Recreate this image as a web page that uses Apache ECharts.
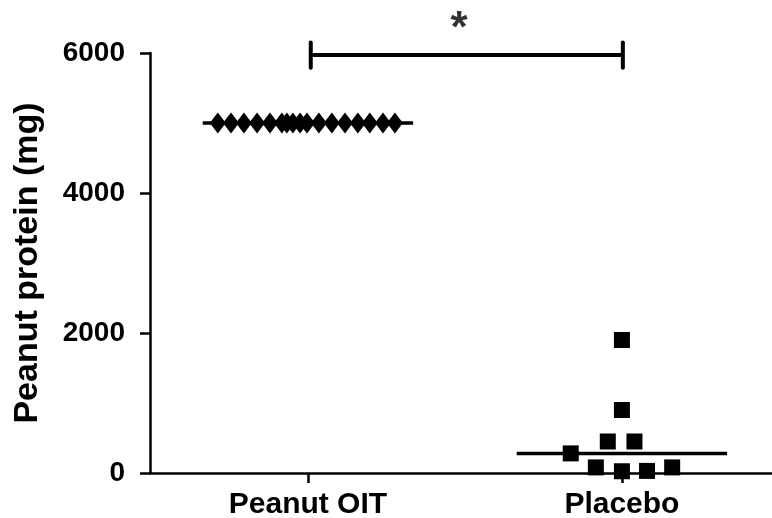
<!DOCTYPE html>
<html>
<head>
<meta charset="utf-8">
<script src="https://cdn.jsdelivr.net/npm/echarts@6/dist/echarts.min.js"></script>
<style>html,body{margin:0;padding:0;background:#fff}#c{width:772px;height:518px}</style>
</head>
<body>
<div id="c"></div>
<script>
// Categories and tick labels
var categories = ['Peanut OIT', 'Placebo'];
var yTicks = [0, 2000, 4000, 6000];
// Peanut OIT: all at 5000 mg, horizontal jitter (category units)
var oitJitter = [-0.287, -0.245, -0.204, -0.162, -0.121, -0.083, -0.067, -0.048, -0.025, -0.003, 0.035, 0.076, 0.118, 0.159, 0.197, 0.239, 0.277];
var oitValues = [5000, 5000, 5000, 5000, 5000, 5000, 5000, 5000, 5000, 5000, 5000, 5000, 5000, 5000, 5000, 5000, 5000];
// Placebo values with jitter
var placeboJitter = [0, 0, -0.045, 0.04, -0.163, -0.083, 0, 0.08, 0.16];
var placeboValues = [1900, 900, 450, 450, 280, 80, 25, 30, 80];
// Medians
var medians = [5000, 280];
var medianHalfWidth = 0.335;
// Significance
var sigFrom = 0.009, sigTo = 1.003, sigY = 5970, sigLabel = '*';

var oitData = oitValues.map(function (v, i) { return [0 + oitJitter[i], v]; });
var plaData = placeboValues.map(function (v, i) { return [1 + placeboJitter[i], v]; });

var chart = echarts.init(document.getElementById('c'));
var fontFam = 'Liberation Sans, Arial, sans-serif';
var series = [];
medians.forEach(function (m, i) {
  series.push({
    type: 'line', data: [[i - medianHalfWidth, m], [i + medianHalfWidth, m]],
    symbol: 'none', lineStyle: { color: '#000', width: 3.5 }, silent: true, z: 1, clip: false
  });
});
series.push({
  type: 'scatter', data: oitData, symbol: 'diamond', symbolSize: [16, 21],
  itemStyle: { color: '#000', opacity: 1 }, z: 3
});
series.push({
  type: 'scatter', data: plaData, symbol: 'rect', symbolSize: 16,
  itemStyle: { color: '#000', opacity: 1 }, z: 3
});
// significance bracket
series.push({
  type: 'line', data: [[sigFrom, sigY], [sigTo, sigY]], symbol: 'none', clip: false,
  lineStyle: { color: '#000', width: 4 }, silent: true
});
[sigFrom, sigTo].forEach(function (x) {
  series.push({
    type: 'line', data: [[x, sigY + 180], [x, sigY - 180]], symbol: 'none', clip: false,
    lineStyle: { color: '#000', width: 4, cap: 'round' }, silent: true
  });
});
series.push({
  type: 'scatter', data: [[0.481, 6330]], symbol: 'circle', symbolSize: 1, clip: false,
  itemStyle: { color: 'rgba(0,0,0,0)' },
  label: { show: true, formatter: sigLabel, position: 'inside', color: '#000', fontSize: 44, fontWeight: 'bold', fontFamily: fontFam },
  silent: true
});

chart.setOption({
  animation: false,
  backgroundColor: '#fff',
  grid: { left: 150, right: 0, top: 53, bottom: 45, containLabel: false, outerBoundsMode: 'none' },
  xAxis: {
    type: 'value', min: -0.503, max: 1.478,
    splitLine: { show: false },
    axisLine: { lineStyle: { color: '#000', width: 2.5 } },
    axisTick: { show: true, length: 10, customValues: [0, 1], lineStyle: { color: '#000', width: 2.5 } },
    axisLabel: {
      customValues: [0, 1], margin: 17,
      formatter: function (v) { return categories[Math.round(v)]; },
      color: '#000', fontSize: 30, fontWeight: 'bold', fontFamily: fontFam
    }
  },
  yAxis: {
    type: 'value', min: 0, max: 6000, interval: 2000,
    name: 'Peanut protein (mg)', nameLocation: 'middle', nameGap: 105,
    nameTextStyle: { color: '#000', fontSize: 34, fontWeight: 'bold', fontFamily: fontFam },
    splitLine: { show: false },
    axisLine: { show: true, onZero: false, lineStyle: { color: '#000', width: 2.5 } },
    axisTick: { show: true, length: 10, lineStyle: { color: '#000', width: 2.5 } },
    axisLabel: {
      margin: 25, color: '#000', fontSize: 28, fontWeight: 'bold', fontFamily: fontFam,
      formatter: function (v) { return String(v); }
    }
  },
  series: series
});
</script>
</body>
</html>
